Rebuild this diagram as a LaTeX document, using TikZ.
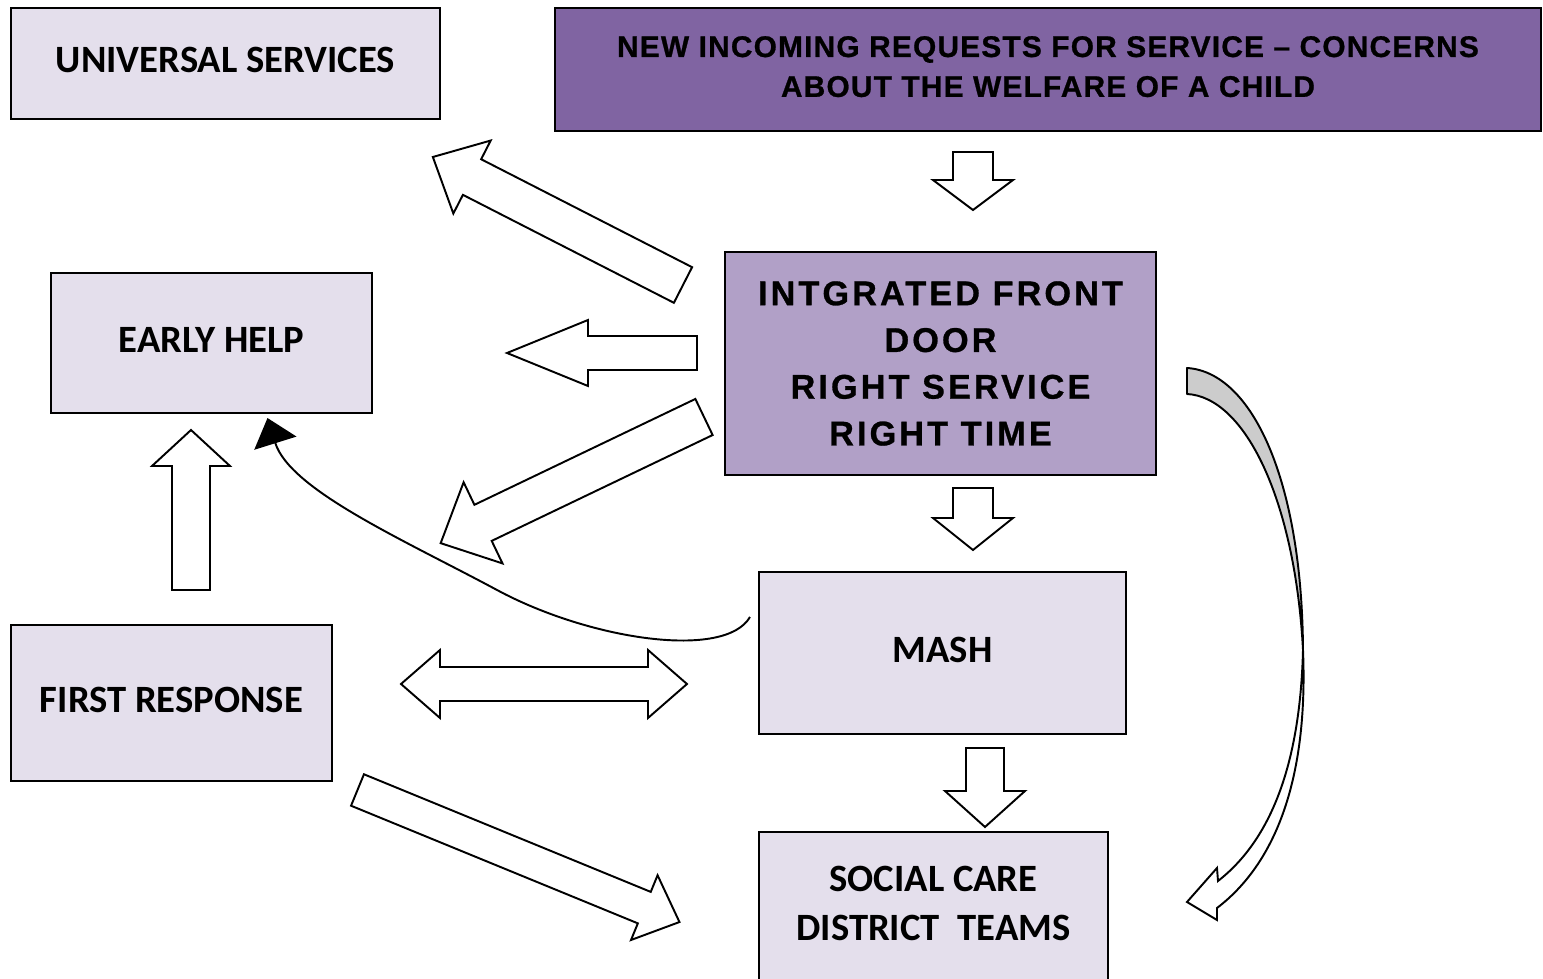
\documentclass[tikz,border=0pt]{standalone}
\usepackage{fontspec}
\newfontfamily\boxfont{Carlito}
\newfontfamily\doorfont[LetterSpace=9, FakeBold=0.8]{Liberation Sans Bold}
\newfontfamily\requestfont[LetterSpace=4, FakeBold=0.8]{Liberation Sans Bold}
\usepackage{tikz}
\usetikzlibrary{arrows.meta,calc}
\definecolor{lilac}{HTML}{E4DFEC}
\definecolor{doorpurple}{HTML}{B1A0C7}
\definecolor{requestpurple}{HTML}{8064A2}
\definecolor{ribbongrey}{HTML}{CCCCCC}

\begin{document}
\begin{tikzpicture}
      [x=0.02cm, y=-0.02cm,
      arrow style/.style={draw, fill=white, line width=1.1pt, line join=miter},
      light box/.style={draw, rectangle, line width=1.2pt, align=center, fill=lilac, text depth=4pt,
        font=\boxfont\bfseries\fontsize{22}{28}\selectfont},
      door box/.style={draw, rectangle, line width=1.2pt, align=center, fill=doorpurple,
        font=\doorfont\fontsize{19.5}{26.6}\selectfont},
      request box/.style={draw, rectangle, line width=1.2pt, align=center, fill=requestpurple, text depth=3.4pt,
        font=\requestfont\fontsize{17}{22.7}\selectfont},
      pics/block arrow/.style args={#1/#2/#3/#4}{code={
        \draw[arrow style] (0,-#2) -- (#1-#4,-#2) -- (#1-#4,-#3) -- (#1,0)
          -- (#1-#4,#3) -- (#1-#4,#2) -- (0,#2) -- cycle;
      }},
      pics/double arrow/.style args={#1/#2/#3/#4}{code={
        \draw[arrow style] (0,0) -- (#4,-#3) -- (#4,-#2) -- (#1-#4,-#2) -- (#1-#4,-#3)
          -- (#1,0) -- (#1-#4,#3) -- (#1-#4,#2) -- (#4,#2) -- (#4,#3) -- cycle;
      }}
      ]
    \useasboundingbox (0,0) rectangle (1543,979);

    \node[light box, minimum width=8.58cm, minimum height=2.22cm] (universal) at (225.5,63.5) {UNIVERSAL SERVICES};
    \node[request box, minimum width=19.72cm, minimum height=2.46cm] (requests) at (1048,69.5)
      {NEW INCOMING REQUESTS FOR SERVICE – CONCERNS\\ABOUT THE WELFARE OF A CHILD};
    \node[door box, minimum width=8.62cm, minimum height=4.46cm] (frontdoor) at (940.5,363.5)
      {INTGRATED FRONT\\DOOR\\RIGHT SERVICE\\RIGHT TIME};
    \node[light box, minimum width=6.42cm, minimum height=2.8cm] (earlyhelp) at (211.5,343) {EARLY HELP};
    \node[light box, minimum width=7.34cm, minimum height=3.24cm] (mash) at (942.5,653) {MASH};
    \node[light box, minimum width=6.42cm, minimum height=3.12cm] (firstresponse) at (171.5,703) {FIRST RESPONSE};
    \node[light box, minimum width=6.98cm, minimum height=2.98cm] (socialcare) at (933.5,906.5)
      {SOCIAL CARE\\DISTRICT\ \ TEAMS};

    % block arrows: length / half shaft / half head / head length
    \pic[rotate=-90] at (973,152) {block arrow=58/20/40/30};
    \pic[rotate=-90] at (973,488) {block arrow=62/20/40/32};
    \pic[rotate=-90] at (985,748) {block arrow=79/19/40/36};
    \pic[rotate=90] at (191,590) {block arrow=160/19/39/36};
    \pic[rotate=180] at (697,353) {block arrow=190/17/33/81};
    \pic[rotate=152.9] at (683,285) {block arrow=281/20/41/44};
    \pic[rotate=205.6] at (704,417) {block arrow=292/20/45/47};
    \pic[rotate=-22.3] at (357.5,790) {block arrow=348/17/35/38};
    \pic at (401,684) {double arrow=286/17/34/39};

    % curved link back to early help
    \coordinate (curve start) at ($(mash.west)+(-8,-36)$);
    \coordinate (curve end) at ($(earlyhelp.south)+(56,4)$);
    \draw[line width=1.1pt, -{Triangle[length=15pt, width=25pt]}]
      (curve start) .. controls (725,660) and (590,640) .. (497,590)
      .. controls (404,540) and (290,490) .. (curve end);

    % ribbon arrow down the right side
    \draw[line width=1.1pt, fill=white, line join=miter]
      (1303,650) .. controls (1308,770) and (1280,860) .. (1217,908)
      -- (1217,920) -- (1187,902) -- (1217,868) -- (1218,881)
      .. controls (1268,842) and (1300,770) .. (1303,650);
    \draw[line width=1.1pt, fill=ribbongrey, line join=round]
      (1187,368) .. controls (1252,372) and (1302,480) .. (1303,650)
      .. controls (1295,500) and (1245,397) .. (1187,394) -- cycle;
\end{tikzpicture}
\end{document}
